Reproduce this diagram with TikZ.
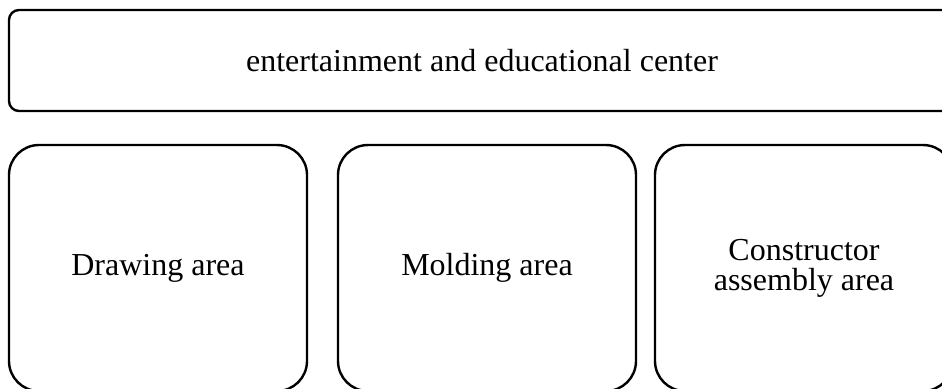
\documentclass[tikz,border=0pt]{standalone}
\usepackage{fontspec}
\setmainfont{Liberation Serif}
\usetikzlibrary{positioning}
\tikzstyle{area}=[draw,line width=1.2pt,rounded corners=15pt,minimum width=149pt,minimum height=123pt,
	align=center,font=\fontsize{16}{15}\selectfont,outer sep=0pt]
\tikzstyle{banner}=[area,rounded corners=5pt,minimum width=473pt,minimum height=50.5pt]

\begin{document}
\begin{tikzpicture}[x=0.5pt,y=-0.5pt]
	\clip (0,0) rectangle (942,388);
	\node[banner] (center) at (482,60.5) {entertainment and educational center};

	\node[area] (drawing) at (158,268) {Drawing area};
	\node[area] (molding) at (487,268) {Molding area};
	\node[area] (constructor) at (804,268) {Constructor\\assembly area};
\end{tikzpicture}
\end{document}
